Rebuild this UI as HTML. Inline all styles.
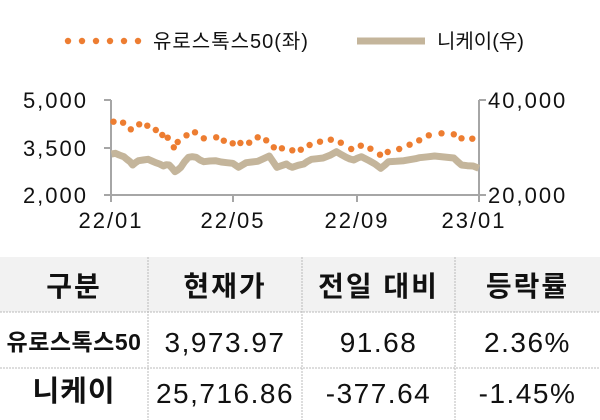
<!DOCTYPE html>
<html><head><meta charset="utf-8"><style>
body{margin:0;width:600px;height:420px;background:#fff;overflow:hidden;font-family:"Liberation Sans","Noto Sans CJK KR",sans-serif;color:#111}
svg{position:absolute;left:0;top:0}
.t{position:absolute;left:0;top:257px;width:600px;height:163px}
.cell{position:absolute;text-align:center;line-height:1;white-space:nowrap}
.h{font-size:28px;font-weight:bold;letter-spacing:2px;top:16px}
.n{font-size:28px;letter-spacing:1.5px}
</style></head><body>
<svg width="600" height="420" id="s" xmlns="http://www.w3.org/2000/svg">
<rect x="0" y="257" width="600" height="55" fill="#f2f2f2"/>
<g stroke="#bbb" stroke-width="1" stroke-dasharray="2,1">
<line x1="0" y1="312" x2="600" y2="312"/>
<line x1="0" y1="368" x2="600" y2="368"/>
<line x1="148" y1="257" x2="148" y2="420"/>
<line x1="302" y1="257" x2="302" y2="420"/>
<line x1="455" y1="257" x2="455" y2="420"/>
</g>
<g stroke="#a6a6a6" stroke-width="2" fill="none">
<line x1="111" y1="100" x2="111" y2="195"/>
<line x1="479" y1="100" x2="479" y2="195"/>
<line x1="104" y1="100" x2="111" y2="100"/>
<line x1="104" y1="148" x2="111" y2="148"/>
<line x1="104" y1="195" x2="486" y2="195"/>
<line x1="479" y1="100" x2="486" y2="100"/>
<line x1="111" y1="195" x2="111" y2="202"/>
<line x1="233" y1="195" x2="233" y2="202"/>
<line x1="357" y1="195" x2="357" y2="202"/>
<line x1="479" y1="195" x2="479" y2="202"/>
</g>
<g font-size="22" fill="#111" letter-spacing="2" font-family="Liberation Sans, Noto Sans CJK KR, sans-serif">
<text x="88" y="108" text-anchor="end">5,000</text>
<text x="88" y="156" text-anchor="end">3,500</text>
<text x="88" y="203" text-anchor="end">2,000</text>
<text x="488" y="108">40,000</text>
<text x="488" y="203">20,000</text>
<text x="111" y="228" text-anchor="middle">22/01</text>
<text x="233" y="228" text-anchor="middle">22/05</text>
<text x="357" y="228" text-anchor="middle">22/09</text>
<text x="474" y="228" text-anchor="middle">23/01</text>
</g>
<g font-size="20" fill="#111" font-family="Liberation Sans, Noto Sans CJK KR, sans-serif">
<text x="153" y="48" letter-spacing="1">유로스톡스50(좌)</text>
<text x="437" y="48">니케이(우)</text>
</g>
<line x1="357" y1="41" x2="425" y2="41" stroke="#c4b59b" stroke-width="7"/>
<g fill="#ed7d31" id="leg"></g>
<polyline id="nk" fill="none" stroke="#c4b59b" stroke-width="7" stroke-linejoin="round"/>
<g id="eu" fill="#ed7d31"></g>
</svg>
<div class="t">
<div class="cell h" style="left:0;width:148px">구분</div>
<div class="cell h" style="left:148px;width:154px">현재가</div>
<div class="cell h" style="left:302px;width:153px">전일 대비</div>
<div class="cell h" style="left:455px;width:145px">등락률</div>
<div class="cell" style="left:0;width:148px;top:74px;font-size:23px;font-weight:bold;letter-spacing:0.5px">유로스톡스50</div>
<div class="cell n" style="left:148px;width:154px;top:72px">3,973.97</div>
<div class="cell n" style="left:302px;width:153px;top:72px">91.68</div>
<div class="cell n" style="left:455px;width:145px;top:72px">2.36%</div>
<div class="cell" style="left:0;width:148px;top:121px;font-size:29px;font-weight:bold;letter-spacing:1px">니케이</div>
<div class="cell n" style="left:148px;width:154px;top:123px">25,716.86</div>
<div class="cell n" style="left:302px;width:153px;top:123px">-377.64</div>
<div class="cell n" style="left:455px;width:145px;top:123px">-1.45%</div>
</div>
<script>
var NS="http://www.w3.org/2000/svg";
function c(tag,a,p){var e=document.createElementNS(NS,tag);for(var k in a)e.setAttribute(k,a[k]);p.appendChild(e);}
var leg=document.getElementById('leg');
for(var i=0;i<6;i++)c('circle',{cx:68+i*14,cy:41,r:3.2},leg);
var eu=[[295,125],[320,128],[340,148],[362,133],[383,137],[405,150],[422,165],[436,173],[452,202],[462,186],[485,166],[507,157],[530,175],[562,172],[582,182],[605,190],[625,189],[648,188],[670,172],[692,181],[712,202],[733,205],[760,211],[782,209],[805,195],[832,185],[860,179],[886,188],[913,207],[938,197],[963,206],[988,224],[1008,216],[1038,207],[1065,194],[1090,181],[1115,166],[1148,160],[1180,163],[1200,175],[1228,176]];
var g=document.getElementById('eu');
eu.forEach(function(p){c('circle',{cx:(p[0]/2.6).toFixed(1),cy:(p[1]/3+80).toFixed(1),r:3.2},g);});
var nk=[[290,222],[300,220],[310,225],[322,230],[330,238],[338,245],[345,255],[352,248],[360,242],[372,240],[385,238],[395,243],[405,248],[415,252],[425,258],[432,254],[440,255],[448,265],[455,275],[462,270],[470,262],[480,245],[490,232],[500,230],[510,232],[520,240],[530,245],[545,243],[560,242],[575,246],[590,248],[605,250],[620,262],[630,255],[640,248],[655,246],[670,244],[685,236],[700,228],[710,245],[720,262],[732,257],[745,252],[752,258],[760,262],[775,256],[790,252],[800,244],[810,238],[825,236],[840,234],[858,226],[875,215],[888,224],[900,232],[910,237],[920,240],[930,234],[940,230],[950,236],[960,242],[975,252],[990,265],[1000,256],[1010,245],[1030,244],[1050,242],[1065,239],[1080,236],[1090,233],[1100,232],[1115,230],[1130,228],[1155,231],[1180,234],[1190,245],[1200,255],[1215,257],[1230,258],[1245,265]];
document.getElementById('nk').setAttribute('points',nk.map(function(p){return (p[0]/2.6).toFixed(1)+','+(p[1]/3+80).toFixed(1);}).join(' '));
</script>
</body></html>
